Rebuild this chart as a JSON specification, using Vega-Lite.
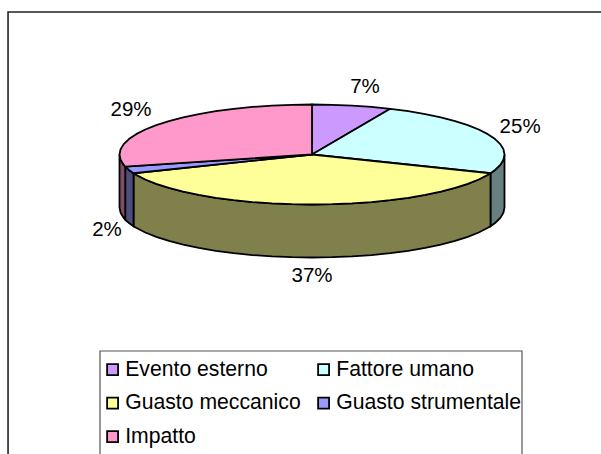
{"$schema":"https://vega.github.io/schema/vega-lite/v6.json","width":601,"height":454,"padding":0,"autosize":{"type":"none"},"background":"white","view":{"stroke":null},
"config":{"font":"Liberation Sans"},
"resolve":{"scale":{"fill":"independent"}},
"layer":[
{"data":{"values":[{"f":"chart","x":-1.579,"y":-6,"o":1},{"f":"chart","x":-1.579,"y":2.85,"o":2},{"f":"chart","x":1.51,"y":2.85,"o":3},{"f":"legend","x":-1.1013,"y":-6,"o":1},{"f":"legend","x":-1.1013,"y":-3.93,"o":2},{"f":"legend","x":1.0909,"y":-3.93,"o":3},{"f":"legend","x":1.0909,"y":-6,"o":4}]},
"mark":{"type":"line","clip":true},
"encoding":{"x":{"field":"x","type":"quantitative","axis":null,"scale":{"domain":[-1.6208,1.5013],"nice":false,"zero":false}},"y":{"field":"y","type":"quantitative","axis":null,"scale":{"domain":[-5.99,3.09],"nice":false,"zero":false}},"order":{"field":"o"},"detail":{"field":"f"},
"color":{"field":"f","type":"nominal","legend":null,"scale":{"domain":["chart","legend"],"range":["#222222","#555555"]}},
"strokeWidth":{"field":"f","type":"nominal","legend":null,"scale":{"domain":["chart","legend"],"range":[1.6,1.2]}}}},
{"data":{"values":[
{"c":"Fattore umano","x":1,"y":0,"y2":-1.06},{"c":"Fattore umano","x":0.9945,"y":-0.1045,"y2":-1.1645},{"c":"Fattore umano","x":0.9781,"y":-0.2079,"y2":-1.2679},{"c":"Fattore umano","x":0.9511,"y":-0.309,"y2":-1.369},{"c":"Fattore umano","x":0.9272,"y":-0.3746,"y2":-1.4346},
{"c":"Guasto meccanico","x":0.9272,"y":-0.3746,"y2":-1.4346},{"c":"Guasto meccanico","x":0.9135,"y":-0.4067,"y2":-1.4667},{"c":"Guasto meccanico","x":0.866,"y":-0.5,"y2":-1.56},{"c":"Guasto meccanico","x":0.809,"y":-0.5878,"y2":-1.6478},{"c":"Guasto meccanico","x":0.7431,"y":-0.6691,"y2":-1.7291},{"c":"Guasto meccanico","x":0.6691,"y":-0.7431,"y2":-1.8031},{"c":"Guasto meccanico","x":0.5878,"y":-0.809,"y2":-1.869},{"c":"Guasto meccanico","x":0.5,"y":-0.866,"y2":-1.926},{"c":"Guasto meccanico","x":0.4067,"y":-0.9135,"y2":-1.9735},{"c":"Guasto meccanico","x":0.309,"y":-0.9511,"y2":-2.0111},{"c":"Guasto meccanico","x":0.2079,"y":-0.9781,"y2":-2.0381},{"c":"Guasto meccanico","x":0.1045,"y":-0.9945,"y2":-2.0545},{"c":"Guasto meccanico","x":0,"y":-1,"y2":-2.06},{"c":"Guasto meccanico","x":-0.1045,"y":-0.9945,"y2":-2.0545},{"c":"Guasto meccanico","x":-0.2079,"y":-0.9781,"y2":-2.0381},{"c":"Guasto meccanico","x":-0.309,"y":-0.9511,"y2":-2.0111},{"c":"Guasto meccanico","x":-0.4067,"y":-0.9135,"y2":-1.9735},{"c":"Guasto meccanico","x":-0.5,"y":-0.866,"y2":-1.926},{"c":"Guasto meccanico","x":-0.5878,"y":-0.809,"y2":-1.869},{"c":"Guasto meccanico","x":-0.6691,"y":-0.7431,"y2":-1.8031},{"c":"Guasto meccanico","x":-0.7431,"y":-0.6691,"y2":-1.7291},{"c":"Guasto meccanico","x":-0.809,"y":-0.5878,"y2":-1.6478},{"c":"Guasto meccanico","x":-0.866,"y":-0.5,"y2":-1.56},{"c":"Guasto meccanico","x":-0.9135,"y":-0.4067,"y2":-1.4667},{"c":"Guasto meccanico","x":-0.9272,"y":-0.3746,"y2":-1.4346},
{"c":"Guasto strumentale","x":-0.9272,"y":-0.3746,"y2":-1.4346},{"c":"Guasto strumentale","x":-0.9511,"y":-0.309,"y2":-1.369},{"c":"Guasto strumentale","x":-0.9703,"y":-0.2419,"y2":-1.3019},
{"c":"Impatto","x":-0.9703,"y":-0.2419,"y2":-1.3019},{"c":"Impatto","x":-0.9781,"y":-0.2079,"y2":-1.2679},{"c":"Impatto","x":-0.9945,"y":-0.1045,"y2":-1.1645},{"c":"Impatto","x":-1,"y":0,"y2":-1.06}
]},
"mark":{"type":"area","stroke":"black","strokeWidth":1.8,"fillOpacity":1},
"encoding":{"x":{"field":"x","type":"quantitative"},"y":{"field":"y","type":"quantitative"},"y2":{"field":"y2"},
"fill":{"field":"c","type":"nominal","legend":null,"scale":{"domain":["Fattore umano","Guasto meccanico","Guasto strumentale","Impatto"],"range":["#668080","#80804D","#4D4D80","#804D66"]}}}},
{"data":{"values":[
{"c":"Evento esterno","o":0,"x":0,"y":0},{"c":"Evento esterno","o":1,"x":0,"y":1},{"c":"Evento esterno","o":2,"x":0.1045,"y":0.9945},{"c":"Evento esterno","o":3,"x":0.2079,"y":0.9781},{"c":"Evento esterno","o":4,"x":0.309,"y":0.9511},{"c":"Evento esterno","o":5,"x":0.4067,"y":0.9135},
{"c":"Fattore umano","o":0,"x":0,"y":0},{"c":"Fattore umano","o":1,"x":0.4067,"y":0.9135},{"c":"Fattore umano","o":2,"x":0.5,"y":0.866},{"c":"Fattore umano","o":3,"x":0.5878,"y":0.809},{"c":"Fattore umano","o":4,"x":0.6691,"y":0.7431},{"c":"Fattore umano","o":5,"x":0.7431,"y":0.6691},{"c":"Fattore umano","o":6,"x":0.809,"y":0.5878},{"c":"Fattore umano","o":7,"x":0.866,"y":0.5},{"c":"Fattore umano","o":8,"x":0.9135,"y":0.4067},{"c":"Fattore umano","o":9,"x":0.9511,"y":0.309},{"c":"Fattore umano","o":10,"x":0.9781,"y":0.2079},{"c":"Fattore umano","o":11,"x":0.9945,"y":0.1045},{"c":"Fattore umano","o":12,"x":1,"y":0},{"c":"Fattore umano","o":13,"x":0.9945,"y":-0.1045},{"c":"Fattore umano","o":14,"x":0.9781,"y":-0.2079},{"c":"Fattore umano","o":15,"x":0.9511,"y":-0.309},{"c":"Fattore umano","o":16,"x":0.9272,"y":-0.3746},
{"c":"Guasto meccanico","o":0,"x":0,"y":0},{"c":"Guasto meccanico","o":1,"x":0.9272,"y":-0.3746},{"c":"Guasto meccanico","o":2,"x":0.9135,"y":-0.4067},{"c":"Guasto meccanico","o":3,"x":0.866,"y":-0.5},{"c":"Guasto meccanico","o":4,"x":0.809,"y":-0.5878},{"c":"Guasto meccanico","o":5,"x":0.7431,"y":-0.6691},{"c":"Guasto meccanico","o":6,"x":0.6691,"y":-0.7431},{"c":"Guasto meccanico","o":7,"x":0.5878,"y":-0.809},{"c":"Guasto meccanico","o":8,"x":0.5,"y":-0.866},{"c":"Guasto meccanico","o":9,"x":0.4067,"y":-0.9135},{"c":"Guasto meccanico","o":10,"x":0.309,"y":-0.9511},{"c":"Guasto meccanico","o":11,"x":0.2079,"y":-0.9781},{"c":"Guasto meccanico","o":12,"x":0.1045,"y":-0.9945},{"c":"Guasto meccanico","o":13,"x":0,"y":-1},{"c":"Guasto meccanico","o":14,"x":-0.1045,"y":-0.9945},{"c":"Guasto meccanico","o":15,"x":-0.2079,"y":-0.9781},{"c":"Guasto meccanico","o":16,"x":-0.309,"y":-0.9511},{"c":"Guasto meccanico","o":17,"x":-0.4067,"y":-0.9135},{"c":"Guasto meccanico","o":18,"x":-0.5,"y":-0.866},{"c":"Guasto meccanico","o":19,"x":-0.5878,"y":-0.809},{"c":"Guasto meccanico","o":20,"x":-0.6691,"y":-0.7431},{"c":"Guasto meccanico","o":21,"x":-0.7431,"y":-0.6691},{"c":"Guasto meccanico","o":22,"x":-0.809,"y":-0.5878},{"c":"Guasto meccanico","o":23,"x":-0.866,"y":-0.5},{"c":"Guasto meccanico","o":24,"x":-0.9135,"y":-0.4067},{"c":"Guasto meccanico","o":25,"x":-0.9272,"y":-0.3746},
{"c":"Guasto strumentale","o":0,"x":0,"y":0},{"c":"Guasto strumentale","o":1,"x":-0.9272,"y":-0.3746},{"c":"Guasto strumentale","o":2,"x":-0.9511,"y":-0.309},{"c":"Guasto strumentale","o":3,"x":-0.9703,"y":-0.2419},
{"c":"Impatto","o":0,"x":0,"y":0},{"c":"Impatto","o":1,"x":-0.9703,"y":-0.2419},{"c":"Impatto","o":2,"x":-0.9781,"y":-0.2079},{"c":"Impatto","o":3,"x":-0.9945,"y":-0.1045},{"c":"Impatto","o":4,"x":-1,"y":0},{"c":"Impatto","o":5,"x":-0.9945,"y":0.1045},{"c":"Impatto","o":6,"x":-0.9781,"y":0.2079},{"c":"Impatto","o":7,"x":-0.9511,"y":0.309},{"c":"Impatto","o":8,"x":-0.9135,"y":0.4067},{"c":"Impatto","o":9,"x":-0.866,"y":0.5},{"c":"Impatto","o":10,"x":-0.809,"y":0.5878},{"c":"Impatto","o":11,"x":-0.7431,"y":0.6691},{"c":"Impatto","o":12,"x":-0.6691,"y":0.7431},{"c":"Impatto","o":13,"x":-0.5878,"y":0.809},{"c":"Impatto","o":14,"x":-0.5,"y":0.866},{"c":"Impatto","o":15,"x":-0.4067,"y":0.9135},{"c":"Impatto","o":16,"x":-0.309,"y":0.9511},{"c":"Impatto","o":17,"x":-0.2079,"y":0.9781},{"c":"Impatto","o":18,"x":-0.1045,"y":0.9945},{"c":"Impatto","o":19,"x":0,"y":1}
]},
"mark":{"type":"line","interpolate":"linear-closed","stroke":"black","strokeWidth":1.8,"strokeJoin":"round"},
"encoding":{"x":{"field":"x","type":"quantitative"},"y":{"field":"y","type":"quantitative"},"order":{"field":"o"},
"fill":{"field":"c","type":"nominal","scale":{"domain":["Evento esterno","Fattore umano","Guasto meccanico","Guasto strumentale","Impatto"],"range":["#CC99FF","#CCFFFF","#FFFF99","#9999FF","#FF99CC"]},
"legend":{"title":" ","titleFontSize":1,"titlePadding":7,"orient":"none","legendX":100,"legendY":351,"columns":2,"direction":"horizontal","symbolType":"square","symbolSize":120,"symbolStrokeColor":"black","symbolStrokeWidth":1.8,"symbolOpacity":1,"labelFont":"Liberation Sans","labelFontSize":21.2,"labelColor":"black","labelLimit":400,"padding":0,"rowPadding":11.5,"columnPadding":10,"symbolOffset":2,"labelOffset":2}}}},
{"data":{"values":[{"x":0.275,"y":1.35,"t":"7%"},{"x":1.081,"y":0.55,"t":"25%"},{"x":-0.94,"y":0.89,"t":"29%"},{"x":-1.065,"y":-1.51,"t":"2%"},{"x":0,"y":-2.43,"t":"37%"}]},
"mark":{"type":"text","font":"Liberation Sans","fontSize":20.5,"color":"black","baseline":"middle","align":"center"},
"encoding":{"x":{"field":"x","type":"quantitative"},"y":{"field":"y","type":"quantitative"},"text":{"field":"t"}}}
]}
